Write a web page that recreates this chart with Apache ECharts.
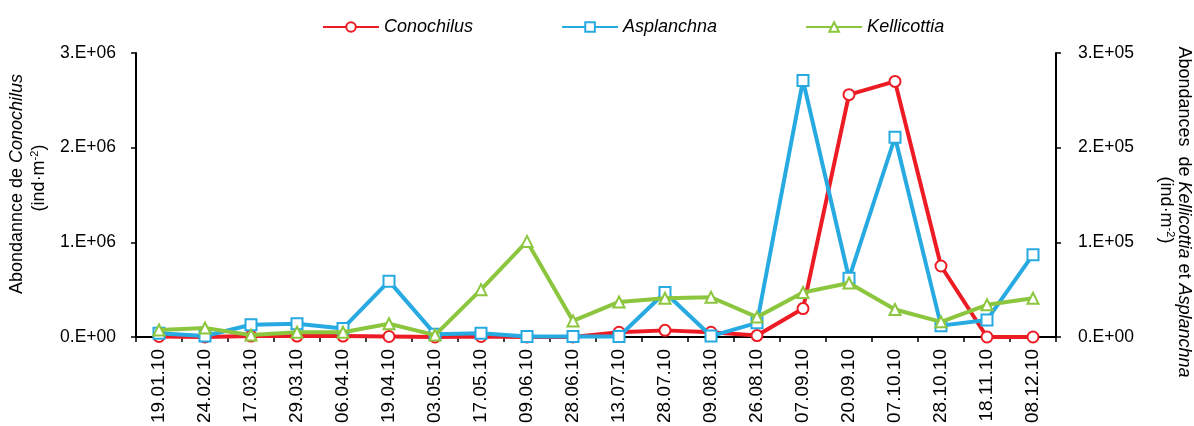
<!DOCTYPE html>
<html>
<head>
<meta charset="utf-8">
<script src="https://cdn.jsdelivr.net/npm/echarts@6/dist/echarts.min.js"></script>
<style>
  html, body { margin: 0; padding: 0; background: #fff; }
  #chart { width: 1194px; height: 426px; }
</style>
</head>
<body>
<div id="chart"></div>
<script>
// Sampling dates (2010)
const dates = ['19.01.10','24.02.10','17.03.10','29.03.10','06.04.10','19.04.10','03.05.10','17.05.10','09.06.10','28.06.10',
               '13.07.10','28.07.10','09.08.10','26.08.10','07.09.10','20.09.10','07.10.10','28.10.10','18.11.10','08.12.10'];

// Abundances (ind·m⁻²)
const conochilus  = [5000, 0, 10000, 10000, 10000, 5000, 0, 5000, 0, 0,
                     50000, 70000, 50000, 15000, 300000, 2560000, 2700000, 750000, 0, 0];
const asplanchna  = [4000, 1000, 13000, 14000, 9000, 59000, 3000, 4000, 500, 500,
                     500, 47000, 1000, 15000, 271000, 62000, 211000, 12000, 18000, 87000];
const kellicottia = [7400, 9500, 2000, 5000, 5000, 14000, 2000, 50000, 101000, 17000,
                     37000, 41000, 42000, 21000, 47000, 57000, 29000, 16000, 34000, 41000];

// Axis ranges
const leftMax = 3000000, leftStep = 1000000;
const rightMax = 300000, rightStep = 100000;

const FONT = 'Liberation Sans, Arial, sans-serif';
const RED = '#ED1C24', BLUE = '#27AAE1', GREEN = '#8CC63F';

function sci(v) {
  if (v === 0) return '0.E+00';
  const e = Math.floor(Math.log10(v) + 1e-9);
  const m = Math.round(v / Math.pow(10, e));
  return m + '.E+' + String(e).padStart(2, '0');
}

const chart = echarts.init(document.getElementById('chart'), null, { renderer: 'canvas' });

function lineSeries(name, data, color, symbol, axisIndex, z) {
  return {
    name: name,
    type: 'line',
    yAxisIndex: axisIndex,
    data: data,
    symbol: symbol,
    symbolSize: 11,
    showAllSymbol: true,
    z: z,
    lineStyle: { color: color, width: 4 },
    itemStyle: { color: color, borderColor: color, borderWidth: 1.8 },
    emphasis: { disabled: true },
    animation: false
  };
}

const titleRich = {
  n: { fontFamily: FONT, fontSize: 18, fill: '#000' },
  i: { fontFamily: FONT, fontSize: 18, fontStyle: 'italic', fill: '#000' },
  s: { fontFamily: FONT, fontSize: 11, fill: '#000', verticalAlign: 'top', padding: [0, 0, 8, 0] }
};

const option = {
  animation: false,
  textStyle: { fontFamily: FONT },
  legend: {
    top: 13,
    left: 317,
    itemWidth: 56,
    itemHeight: 12,
    itemGap: 88,
    textStyle: { fontFamily: FONT, fontSize: 18, fontStyle: 'italic', color: '#000' },
    data: ['Conochilus', 'Asplanchna', 'Kellicottia']
  },
  grid: { left: 136, right: 138, top: 53, bottom: 89 },
  xAxis: {
    type: 'category',
    data: dates,
    boundaryGap: true,
    axisLine: { lineStyle: { color: '#000', width: 2 } },
    axisTick: { show: true, length: 5, lineStyle: { color: '#000', width: 1.5 } },
    axisLabel: { rotate: 90, fontFamily: FONT, fontSize: 19, color: '#000', margin: 12 }
  },
  yAxis: [
    {
      type: 'value', position: 'left',
      min: 0, max: leftMax, interval: leftStep,
      splitLine: { show: false },
      axisLine: { show: true, lineStyle: { color: '#000', width: 2 } },
      axisTick: { show: true, length: 5, lineStyle: { color: '#000', width: 1.5 } },
      axisLabel: { formatter: sci, fontFamily: FONT, fontSize: 17.5, color: '#000', margin: 20 }
    },
    {
      type: 'value', position: 'right',
      min: 0, max: rightMax, interval: rightStep,
      splitLine: { show: false },
      axisLine: { show: true, lineStyle: { color: '#000', width: 2 } },
      axisTick: { show: true, length: 5, lineStyle: { color: '#000', width: 1.5 } },
      axisLabel: { formatter: sci, fontFamily: FONT, fontSize: 17.5, color: '#000', margin: 22 }
    }
  ],
  series: [
    lineSeries('Conochilus', conochilus, RED, 'emptyCircle', 0, 2),
    lineSeries('Asplanchna', asplanchna, BLUE, 'emptyRect', 1, 3),
    lineSeries('Kellicottia', kellicottia, GREEN, 'emptyTriangle', 1, 4)
  ],
  graphic: [
    {
      type: 'text', x: 17, y: 184, rotation: Math.PI / 2,
      style: {
        text: '{n|Abondannce de }{i|Conochilus}',
        rich: titleRich,
        align: 'center', verticalAlign: 'middle'
      }
    },
    {
      type: 'text', x: 39, y: 178, rotation: Math.PI / 2,
      style: {
        text: '{n|(ind·m}{s|-2}{n|)}',
        rich: titleRich,
        align: 'center', verticalAlign: 'middle'
      }
    },
    {
      type: 'text', x: 1184, y: 212, rotation: -Math.PI / 2,
      style: {
        text: '{n|Abondances  de }{i|Kellicottia}{n| et }{i|Asplanchna}',
        rich: titleRich,
        align: 'center', verticalAlign: 'middle'
      }
    },
    {
      type: 'text', x: 1166, y: 210, rotation: -Math.PI / 2,
      style: {
        text: '{n|(ind·m}{s|-2}{n|)}',
        rich: titleRich,
        align: 'center', verticalAlign: 'middle'
      }
    }
  ]
};

chart.setOption(option);
</script>
</body>
</html>
